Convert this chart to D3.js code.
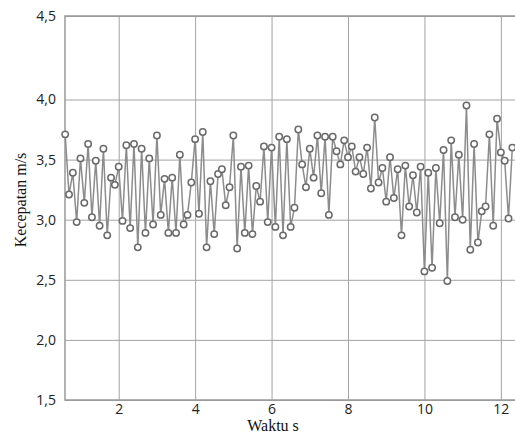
<!DOCTYPE html>
<html>
<head>
<meta charset="utf-8">
<script src="https://cdn.jsdelivr.net/npm/d3@7"></script>
<style>
  body { margin: 0; background: #fff; }
  .grid line { stroke: #a3a3a3; stroke-width: 1; }
  .grid path { display: none; }
  .tick text { font-family: "Open Sans", sans-serif; font-size: 14px; fill: #222; }
  .axis-title { font-family: "Liberation Serif", serif; font-size: 16px; fill: #111; }
</style>
</head>
<body>
<div id="chart"></div>
<script>
// time (s), one sample every 0.1 s
var waktu = [
  0.6, 0.7, 0.8, 0.9, 1.0, 1.1, 1.2, 1.3, 1.4, 1.5, 1.6, 1.7, 1.8, 1.9, 2.0, 2.1, 2.2, 2.3, 2.4, 2.5,
  2.6, 2.7, 2.8, 2.9, 3.0, 3.1, 3.2, 3.3, 3.4, 3.5, 3.6, 3.7, 3.8, 3.9, 4.0, 4.1, 4.2, 4.3, 4.4, 4.5,
  4.6, 4.7, 4.8, 4.9, 5.0, 5.1, 5.2, 5.3, 5.4, 5.5, 5.6, 5.7, 5.8, 5.9, 6.0, 6.1, 6.2, 6.3, 6.4, 6.5,
  6.6, 6.7, 6.8, 6.9, 7.0, 7.1, 7.2, 7.3, 7.4, 7.5, 7.6, 7.7, 7.8, 7.9, 8.0, 8.1, 8.2, 8.3, 8.4, 8.5,
  8.6, 8.7, 8.8, 8.9, 9.0, 9.1, 9.2, 9.3, 9.4, 9.5, 9.6, 9.7, 9.8, 9.9, 10.0, 10.1, 10.2, 10.3, 10.4, 10.5,
  10.6, 10.7, 10.8, 10.9, 11.0, 11.1, 11.2, 11.3, 11.4, 11.5, 11.6, 11.7, 11.8, 11.9, 12.0, 12.1, 12.2, 12.3
]

// speed (m/s)
var kecepatan = [
  3.71, 3.21, 3.39, 2.98, 3.51, 3.14, 3.63, 3.02, 3.49, 2.95, 3.59, 2.87, 3.35, 3.29, 3.44, 2.99, 3.62, 2.93, 3.63, 2.77,
  3.59, 2.89, 3.51, 2.96, 3.70, 3.04, 3.34, 2.89, 3.35, 2.89, 3.54, 2.96, 3.04, 3.31, 3.67, 3.05, 3.73, 2.77, 3.32, 2.88,
  3.38, 3.42, 3.12, 3.27, 3.70, 2.76, 3.44, 2.89, 3.45, 2.88, 3.28, 3.15, 3.61, 2.98, 3.60, 2.94, 3.69, 2.87, 3.67, 2.94,
  3.10, 3.75, 3.46, 3.27, 3.59, 3.35, 3.70, 3.22, 3.69, 3.04, 3.69, 3.57, 3.46, 3.66, 3.52, 3.61, 3.40, 3.52, 3.38, 3.60,
  3.26, 3.85, 3.31, 3.43, 3.15, 3.52, 3.18, 3.42, 2.87, 3.45, 3.11, 3.37, 3.06, 3.44, 2.57, 3.39, 2.60, 3.43, 2.97, 3.58,
  2.49, 3.66, 3.02, 3.54, 3.00, 3.95, 2.75, 3.63, 2.81, 3.07, 3.11, 3.71, 2.95, 3.84, 3.56, 3.49, 3.01, 3.60
]

var xTicks = [2, 4, 6, 8, 10, 12]
var yTicks = [1.5, 2.0, 2.5, 3.0, 3.5, 4.0, 4.5]

var data = waktu.map(function(t, i){ return {t: t, v: kecepatan[i]} })

var W = 515, H = 435
var pLeft = 65, pRight = 515, pTop = 16, pBottom = 400

var svg = d3.select('#chart').append('svg')
  .attr('width', W).attr('height', H)

var x = d3.scaleLinear().domain([0.595, 12.37]).range([pLeft, pRight])
// the top band (4,0 - 4,5) is drawn taller in the original
var y = d3.scaleLinear().domain([1.5, 4.0, 4.5]).range([pBottom, 99.5, pTop])

var fmt = function(d){ return d3.format('.1f')(d).replace('.', ',') }

// horizontal grid + y labels
svg.append('g')
  .attr('class', 'grid')
  .attr('transform', 'translate(' + pLeft + ',0)')
  .call(d3.axisLeft(y).tickValues(yTicks).tickSize(-(pRight - pLeft)).tickPadding(9).tickFormat(fmt))

// vertical grid + x labels
svg.append('g')
  .attr('class', 'grid')
  .attr('transform', 'translate(0,' + pBottom + ')')
  .call(d3.axisBottom(x).tickValues(xTicks).tickSize(-(pBottom - pTop)).tickPadding(4).tickFormat(d3.format('d')))

// frame
svg.append('path')
  .attr('d', 'M' + pRight + ',' + pTop + 'H' + pLeft + 'V' + pBottom + 'H' + pRight)
  .attr('fill', 'none').attr('stroke', '#999').attr('stroke-width', 1.5)

var plot = svg.append('g')

var line = d3.line().x(function(d){ return x(d.t) }).y(function(d){ return y(d.v) })

plot.append('path')
  .attr('d', line(data))
  .attr('fill', 'none')
  .attr('stroke', '#8c8c8c')
  .attr('stroke-width', 1.5)

plot.selectAll('circle').data(data).enter().append('circle')
  .attr('cx', function(d){ return x(d.t) })
  .attr('cy', function(d){ return y(d.v) })
  .attr('r', 3.2)
  .attr('fill', '#fff')
  .attr('stroke', '#6a6a6a')
  .attr('stroke-width', 1.5)

svg.append('text')
  .attr('class', 'axis-title')
  .attr('x', 273).attr('y', 431)
  .attr('text-anchor', 'middle')
  .text('Waktu s')

svg.append('text')
  .attr('class', 'axis-title')
  .attr('transform', 'translate(26,200) rotate(-90)')
  .attr('text-anchor', 'middle')
  .text('Kecepatan m/s')
</script>
</body>
</html>
